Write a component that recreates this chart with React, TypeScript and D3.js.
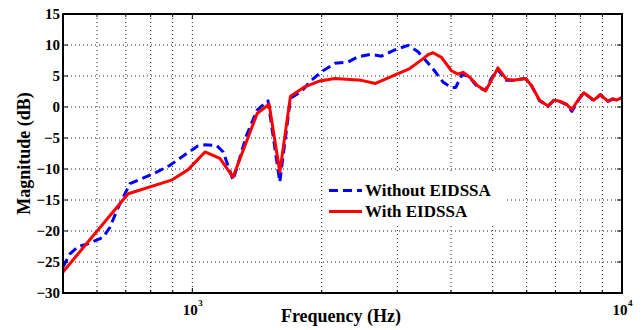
import React from "react";
import * as d3 from "d3";

const FREQ_WITHOUT = [500, 519, 543, 572, 620, 643, 673, 716, 755, 826, 887, 970, 1030, 1070, 1139, 1180, 1244, 1337, 1415, 1500, 1598, 1692, 1800, 1876, 1998, 2146, 2304, 2430, 2611, 2755, 2958, 3177, 3352, 3600, 3830, 4008, 4100, 4250, 4420, 4622, 4815, 4965, 5143, 5380, 5575, 5966, 6150, 6431, 6725, 6944, 7160, 7420, 7645, 7967, 8153, 8600, 8900, 9270, 9526, 9700, 10000];
const DB_WITHOUT = [-25.8, -23.7, -22.5, -22.05, -21.0, -19.4, -16.1, -12.35, -11.7, -10.5, -9.4, -7.5, -6.3, -6.1, -6.2, -7.25, -11.8, -4.55, -0.5, 1.0, -12.1, 1.4, 2.6, 4.05, 5.7, 7.05, 7.25, 8.1, 8.5, 8.2, 9.2, 9.95, 8.9, 6.5, 4.05, 3.15, 3.15, 5.3, 4.8, 3.15, 2.7, 4.6, 6.0, 4.3, 4.3, 4.6, 3.5, 1.0, 0.1, 1.1, 0.9, 0.4, -0.7, 1.4, 2.3, 1.0, 2.0, 0.9, 1.3, 1.1, 1.5];

const FREQ_WITH = [500, 709, 894, 978, 1070, 1159, 1244, 1415, 1509, 1598, 1692, 1827, 1980, 2146, 2475, 2668, 2805, 3012, 3206, 3415, 3550, 3632, 3800, 4008, 4153, 4265, 4420, 4622, 4815, 4965, 5143, 5380, 5575, 5966, 6150, 6431, 6725, 6944, 7160, 7420, 7645, 7967, 8153, 8600, 8900, 9270, 9526, 9700, 10000];
const DB_WITH = [-26.6, -14.0, -11.8, -10.1, -7.25, -8.3, -11.3, -1.05, 0.45, -10.5, 1.75, 3.25, 4.2, 4.6, 4.3, 3.8, 4.45, 5.4, 6.2, 7.6, 8.5, 8.75, 8.0, 5.85, 5.3, 5.6, 4.8, 3.4, 2.6, 4.3, 6.3, 4.5, 4.3, 4.6, 3.5, 1.1, 0.15, 1.1, 0.95, 0.45, -0.4, 1.5, 2.3, 1.1, 2.0, 0.95, 1.3, 1.1, 1.5];

const Y_TICKS = [-30, -25, -20, -15, -10, -5, 0, 5, 10, 15];
const X_MAJOR = [1000, 10000];
const X_MAJOR_EXP = ["3", "4"];
const X_MINOR = [600, 700, 800, 900, 2000, 3000, 4000, 5000, 6000, 7000, 8000, 9000];
const SERIES_NAMES = ["Without EIDSSA", "With EIDSSA"];

const W = 644, H = 330;
const L = 63, R = 622, T = 14, B = 293;
const FONT = "'Liberation Serif', 'Times New Roman', serif";

export default function App() {
  const x = d3.scaleLog().domain([500, 10000]).range([L, R]);
  const y = d3.scaleLinear().domain([-30, 15]).range([B, T]);
  const line = d3.line<[number, number]>().x(d => x(d[0])).y(d => y(d[1]));
  const without = FREQ_WITHOUT.map((f, i) => [f, DB_WITHOUT[i]] as [number, number]);
  const withE = FREQ_WITH.map((f, i) => [f, DB_WITH[i]] as [number, number]);
  const fmt = (v: number) => (v < 0 ? "\u2212" + Math.abs(v) : String(v));
  const gridStyle = { stroke: "#222", strokeWidth: 1, strokeDasharray: "1,3" };

  return (
    <div style={{ position: "absolute", left: 0, top: 0 }}>
      <svg width={W} height={H} style={{ display: "block", background: "#fff" }}>
        <rect x={0} y={0} width={W} height={H} fill="#fff" />
        {/* grid */}
        {Y_TICKS.filter(v => v > -30 && v < 15).map(v => (
          <line key={"gy" + v} x1={L} x2={R} y1={y(v)} y2={y(v)} {...gridStyle} />
        ))}
        {[...X_MINOR, 1000].map(v => (
          <line key={"gx" + v} x1={x(v)} x2={x(v)} y1={T} y2={B} {...gridStyle} />
        ))}
        {/* series */}
        <path d={line(without) || ""} fill="none" stroke="#0000ff" strokeWidth={3} strokeDasharray="9,5" strokeLinejoin="round" />
        <path d={line(withE) || ""} fill="none" stroke="#ff0000" strokeWidth={3} strokeLinejoin="round" />
        {/* ticks */}
        {Y_TICKS.map(v => (
          <g key={"ty" + v}>
            <line x1={L} x2={L + 5} y1={y(v)} y2={y(v)} stroke="#000" strokeWidth={1} />
            <line x1={R - 5} x2={R} y1={y(v)} y2={y(v)} stroke="#000" strokeWidth={1} />
            <text x={L - 3} y={y(v) + 5} textAnchor="end" fontFamily={FONT} fontWeight="bold" fontSize={15} fill="#000">{fmt(v)}</text>
          </g>
        ))}
        {X_MINOR.map(v => (
          <g key={"tx" + v}>
            <line x1={x(v)} x2={x(v)} y1={B} y2={B - 3} stroke="#000" strokeWidth={1} />
            <line x1={x(v)} x2={x(v)} y1={T} y2={T + 3} stroke="#000" strokeWidth={1} />
          </g>
        ))}
        {X_MAJOR.map((v, i) => (
          <g key={"txm" + v}>
            <line x1={x(v)} x2={x(v)} y1={B} y2={B - 5} stroke="#000" strokeWidth={1} />
            <line x1={x(v)} x2={x(v)} y1={T} y2={T + 5} stroke="#000" strokeWidth={1} />
            <text x={x(v) - 2} y={315} textAnchor="middle" fontFamily={FONT} fontWeight="bold" fontSize={15} fill="#000">10</text>
            <text x={x(v) + 6} y={306} textAnchor="start" fontFamily={FONT} fontWeight="bold" fontSize={9} fill="#000">{X_MAJOR_EXP[i]}</text>
          </g>
        ))}
        {/* frame */}
        <rect x={L} y={T} width={R - L} height={B - T} fill="none" stroke="#000" strokeWidth={2} />
        {/* legend */}
        <rect x={323} y={174} width={182} height={52} fill="#fff" />
        <line x1={329} x2={362} y1={190.5} y2={190.5} stroke="#0000ff" strokeWidth={3} strokeDasharray="9,5" />
        <text x={365} y={196} fontFamily={FONT} fontWeight="bold" fontSize={17} fill="#000">{SERIES_NAMES[0]}</text>
        <line x1={329} x2={362} y1={211.5} y2={211.5} stroke="#ff0000" strokeWidth={3} />
        <text x={365} y={217} fontFamily={FONT} fontWeight="bold" fontSize={17} fill="#000">{SERIES_NAMES[1]}</text>
        {/* axis labels */}
        <text x={341} y={322} textAnchor="middle" fontFamily={FONT} fontWeight="bold" fontSize={18} fill="#000">Frequency (Hz)</text>
        <text transform={`translate(30,${(T + B) / 2}) rotate(-90)`} textAnchor="middle" fontFamily={FONT} fontWeight="bold" fontSize={18} fill="#000">Magnitude (dB)</text>
      </svg>
    </div>
  );
}
